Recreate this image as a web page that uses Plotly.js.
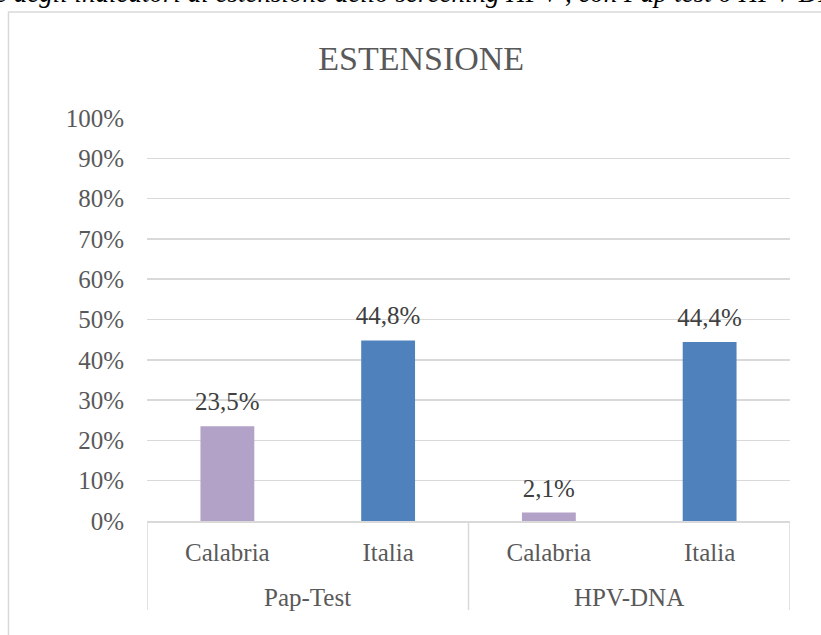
<!DOCTYPE html>
<html>
<head>
<meta charset="utf-8">
<script src="https://cdn.plot.ly/plotly-3.0.1.min.js"></script>
<style>html,body{margin:0;padding:0;background:#fff;}#chart{width:821px;height:635px;}</style>
</head>
<body>
<div id="chart"></div>
<script>
const groups = ["Pap-Test", "Pap-Test", "HPV-DNA", "HPV-DNA"];
const areas = ["Calabria", "Italia", "Calabria", "Italia"];
const values = [0.235, 0.448, 0.021, 0.444];
const barColors = ["#B3A2C7", "#4F81BD", "#B3A2C7", "#4F81BD"];
const tickVals = [0, 0.1, 0.2, 0.3, 0.4, 0.5, 0.6, 0.7, 0.8, 0.9, 1.0];
const tickText = ["0%", "10%", "20%", "30%", "40%", "50%", "60%", "70%", "80%", "90%", "100%"];
const chartTitle = "ESTENSIONE";
const caption = "e degli indicatori di estensione dello screening HPV , con Pap test o HPV-DNA";

const serif = "Liberation Serif, DejaVu Serif, serif";
const grey = "#595959";
const lineGrey = "#d9d9d9";

const idx = areas.map((_, i) => i);

const bars = {
  type: "bar",
  x: idx,
  y: values,
  marker: { color: barColors },
  width: 0.335,
  hoverinfo: "none",
  showlegend: false
};
const labels = {
  type: "scatter",
  mode: "markers+text",
  x: idx,
  y: values,
  text: values.map(v => (v * 100).toFixed(1).replace(".", ",") + "%"),
  textposition: "top center",
  textfont: { family: serif, size: 25, color: "#404040" },
  marker: { size: 14, color: "rgba(0,0,0,0)" },
  hoverinfo: "none",
  showlegend: false,
  cliponaxis: false
};

// group labels and dividers derived from the groups array
const groupNames = [...new Set(groups)];
const groupCenters = groupNames.map(g => {
  const ii = idx.filter(i => groups[i] === g);
  return ii.reduce((a, b) => a + b, 0) / ii.length;
});
const boundaries = [-0.5];
groupNames.forEach(g => {
  const ii = idx.filter(i => groups[i] === g);
  boundaries.push(Math.max(...ii) + 0.5);
});

const shapes = [
  { type: "rect", xref: "paper", yref: "paper",
    x0: -0.2154, x1: 1.3, y0: -0.4, y1: 1.263,
    line: { color: lineGrey, width: 1.5 }, fillcolor: "rgba(0,0,0,0)", layer: "below" }
].concat(boundaries.map(b => ({
  type: "line", xref: "x", yref: "paper", x0: b, x1: b, y0: 0, y1: -0.221,
  line: { color: lineGrey, width: 1.5 }
})));

const annotations = [
  { text: caption, xref: "paper", yref: "paper",
    x: -0.24, y: 1.268, xanchor: "left", yanchor: "bottom",
    showarrow: false,
    font: { family: serif, size: 27, color: "#000000", style: "italic" } }
].concat(groupNames.map((g, k) => ({
  text: g, xref: "x", yref: "paper", x: groupCenters[k], y: -0.1886,
  xanchor: "center", yanchor: "middle", showarrow: false,
  font: { family: serif, size: 25, color: grey }
})));

const layout = {
  width: 821, height: 635,
  margin: { l: 147, r: 31, t: 118, b: 114 },
  paper_bgcolor: "#ffffff", plot_bgcolor: "#ffffff",
  separators: ",.",
  title: {
    text: chartTitle,
    font: { family: serif, size: 34, color: grey },
    xref: "container", x: 0.513, xanchor: "center",
    yref: "container", y: 0.909, yanchor: "middle"
  },
  xaxis: {
    type: "linear", range: [-0.5, 3.5],
    tickvals: idx, ticktext: areas,
    showline: true, linecolor: lineGrey, linewidth: 1.5,
    showgrid: false, zeroline: false,
    tickfont: { family: serif, size: 25, color: grey },
    ticks: "outside", ticklen: 8, tickcolor: "rgba(0,0,0,0)",
    fixedrange: true
  },
  yaxis: {
    range: [0, 1],
    tickvals: tickVals, ticktext: tickText,
    tickfont: { family: serif, size: 25, color: grey },
    showgrid: true, gridcolor: lineGrey, gridwidth: 1.5,
    zeroline: false, showline: false,
    ticks: "outside", ticklen: 17, tickcolor: "rgba(0,0,0,0)",
    fixedrange: true
  },
  shapes: shapes,
  annotations: annotations
};

Plotly.newPlot("chart", [bars, labels], layout, { displayModeBar: false, staticPlot: true });
</script>
</body>
</html>
